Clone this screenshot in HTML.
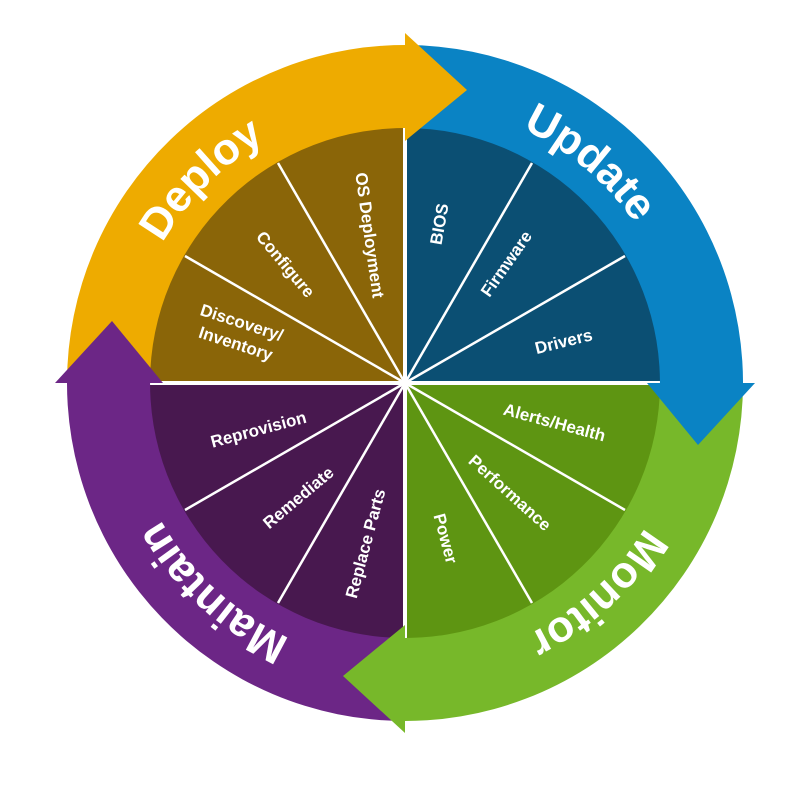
<!DOCTYPE html>
<html><head><meta charset="utf-8"><style>
html,body{margin:0;padding:0;background:#fff;width:800px;height:800px;overflow:hidden}
svg{display:block}
text{font-family:"Liberation Sans",sans-serif;font-weight:bold;fill:#fff}
.s{font-size:17px}
.b{font-size:44px}
</style></head><body>
<svg width="800" height="800" viewBox="0 0 800 800">
<path d="M403,381 L403,128 L300,128 Q150,128 150,278 L150,381 Z" fill="#8a6508"/>
<path d="M407,381 L407,128 L510,128 Q660,128 660,278 L660,381 Z" fill="#0b4f73"/>
<path d="M407,385 L407,640 L510,640 Q660,640 660,490 L660,385 Z" fill="#5e9512"/>
<path d="M403,385 L403,640 L300,640 Q150,640 150,490 L150,385 Z" fill="#48184f"/>
<g stroke="#fff" stroke-width="2.5">
<line x1="405" y1="383" x2="278" y2="163"/>
<line x1="405" y1="383" x2="185" y2="256"/>
<line x1="405" y1="383" x2="532" y2="163"/>
<line x1="405" y1="383" x2="625" y2="256"/>
<line x1="405" y1="383" x2="625" y2="510"/>
<line x1="405" y1="383" x2="532" y2="603"/>
<line x1="405" y1="383" x2="185" y2="510"/>
<line x1="405" y1="383" x2="278" y2="603"/>
</g>
<g>
<path d="M67,383 A338,338 0 0 1 416.8,45.2 L413.9,128.2 A255,255 0 0 0 150,383 Z" fill="#eeab00"/>
<path d="M67,383 A338,338 0 0 1 416.8,45.2 L413.9,128.2 A255,255 0 0 0 150,383 Z" fill="#0a83c4" transform="rotate(90 405 383)"/>
<path d="M67,383 A338,338 0 0 1 416.8,45.2 L413.9,128.2 A255,255 0 0 0 150,383 Z" fill="#77b82a" transform="rotate(180 405 383)"/>
<path d="M67,383 A338,338 0 0 1 416.8,45.2 L413.9,128.2 A255,255 0 0 0 150,383 Z" fill="#6c2686" transform="rotate(270 405 383)"/>
</g>
<path d="M405,33 L405,141 L467,90 Z" fill="#eeab00"/>
<path d="M405,33 L405,141 L467,90 Z" fill="#0a83c4" transform="rotate(90 405 383)"/>
<path d="M405,33 L405,141 L467,90 Z" fill="#77b82a" transform="rotate(180 405 383)"/>
<path d="M405,33 L405,141 L467,90 Z" fill="#6c2686" transform="rotate(270 405 383)"/>
<defs>
<path id="pD" d="M125,383 A280,280 0 0 1 405,103"/>
<path id="pU" d="M405,103 A280,280 0 0 1 680.8,334.4"/>
<path id="pM" d="M685,383 A280,280 0 0 1 380.6,661.9"/>
<path id="pA" d="M405,663 A280,280 0 0 1 126.1,407.4"/>
</defs>
<text class="b"><textPath href="#pD" startOffset="50%" text-anchor="middle">Deploy</textPath></text>
<text class="b"><textPath href="#pU" startOffset="50%" text-anchor="middle">Update</textPath></text>
<text class="b"><textPath href="#pM" startOffset="50%" text-anchor="middle">Monitor</textPath></text>
<text class="b"><textPath href="#pA" startOffset="50%" text-anchor="middle">Maintain</textPath></text>
<g class="s" text-anchor="middle">
<text transform="translate(364,236) rotate(82)" class="s">OS Deployment</text>
<text transform="translate(281,268) rotate(50)" class="s">Configure</text>
<text transform="translate(240,328) rotate(18)" class="s">Discovery/</text>
<text transform="translate(234,349) rotate(18)" class="s">Inventory</text>
<text transform="translate(445,225) rotate(-80)" class="s">BIOS</text>
<text transform="translate(511,267) rotate(-55)" class="s">Firmware</text>
<text transform="translate(565,347) rotate(-14)" class="s">Drivers</text>
<text transform="translate(553,428) rotate(15)" class="s">Alerts/Health</text>
<text transform="translate(506,497) rotate(42)" class="s">Performance</text>
<text transform="translate(440,540) rotate(75)" class="s">Power</text>
<text transform="translate(260,435) rotate(-15)" class="s">Reprovision</text>
<text transform="translate(302,502) rotate(-40)" class="s">Remediate</text>
<text transform="translate(371,545) rotate(-75)" class="s">Replace Parts</text>
</g>
</svg>
</body></html>
